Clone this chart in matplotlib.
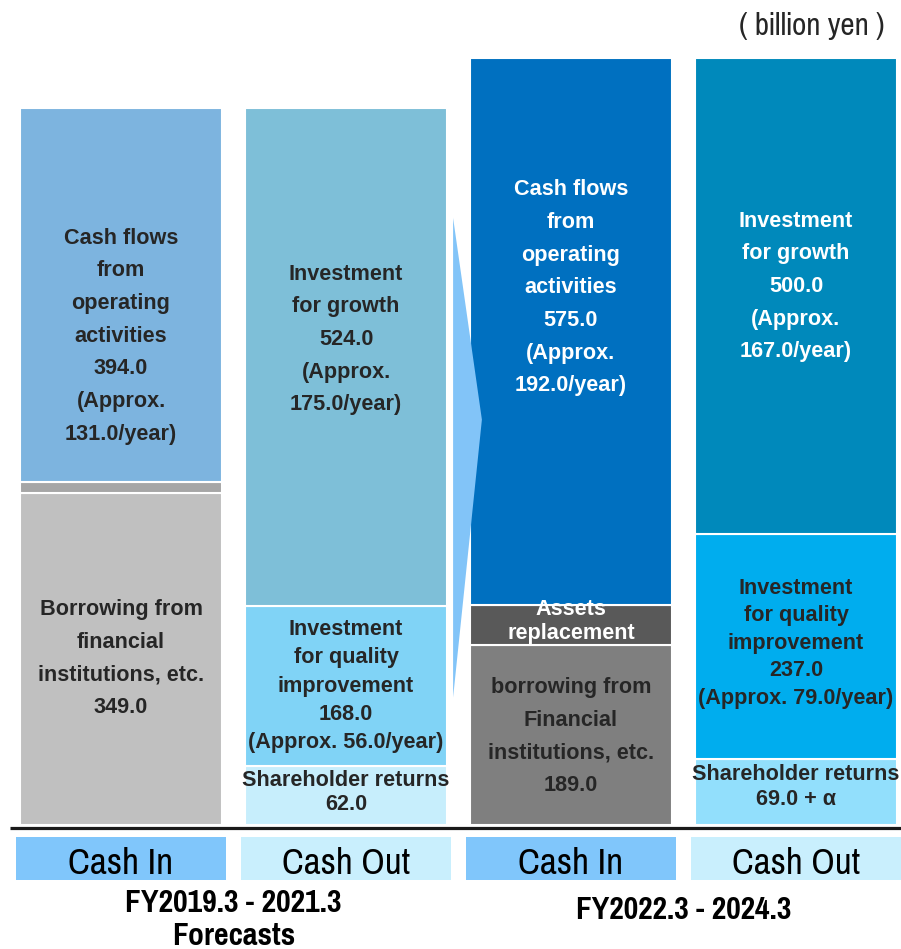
import matplotlib
matplotlib.use('Agg')
import matplotlib.pyplot as plt
from matplotlib import font_manager as fm
from matplotlib.patches import Polygon

# fonts: narrow face for the axis captions, Arial-like bold for the boxes
installed = {f.name for f in fm.fontManager.ttflist}
narrow = 'Liberation Sans'
for cand in ['Liberation Sans Narrow', 'Arial Narrow', 'Pragati Narrow', 'Archivo Narrow',
             'PT Sans Narrow', 'Roboto Condensed']:
    if cand in installed:
        narrow = cand
        break
main_font = 'Liberation Sans'

# data (billion yen), stacked bottom -> top
columns = ['Cash In', 'Cash Out', 'Cash In', 'Cash Out']
periods = ['FY2019.3 - 2021.3\nForecasts', 'FY2022.3 - 2024.3']

col1_values = [349.0, 11.0, 394.0]
col2_values = [62.0, 168.0, 524.0]
col3_values = [189.0, 42.0, 575.0]
col4_values = [69.0, 237.0, 500.0]

col1_labels = ['Borrowing from\nfinancial\ninstitutions, etc.\n349.0', '',
               'Cash flows\nfrom\noperating\nactivities\n394.0\n(Approx.\n131.0/year)']
col2_labels = ['Shareholder returns\n62.0',
               'Investment\nfor quality\nimprovement\n168.0\n(Approx. 56.0/year)',
               'Investment\nfor growth\n524.0\n(Approx.\n175.0/year)']
col3_labels = ['borrowing from\nFinancial\ninstitutions, etc.\n189.0',
               'Assets\nreplacement',
               'Cash flows\nfrom\noperating\nactivities\n575.0\n(Approx.\n192.0/year)']
col4_labels = ['Shareholder returns\n69.0 + α',
               'Investment\nfor quality\nimprovement\n237.0\n(Approx. 79.0/year)',
               'Investment\nfor growth\n500.0\n(Approx.\n167.0/year)']

values = [col1_values, col2_values, col3_values, col4_values]
labels = [col1_labels, col2_labels, col3_labels, col4_labels]

# styles
seg_colors = [['#c0c0c0', '#a6a6a6', '#7db4df'],
              ['#c7eefc', '#80d3f6', '#7ebfd8'],
              ['#7f7f7f', '#595959', '#0070c0'],
              ['#92dffc', '#00adee', '#0089bb']]
txt_colors = [['#262626', '#262626', '#262626'],
              ['#262626', '#262626', '#262626'],
              ['#262626', 'white', 'white'],
              ['#262626', '#262626', 'white']]
# where the text block centre sits inside each segment (fraction from bottom)
txt_frac = [[0.50, 0.5, 0.39],
            [0.55, 0.50, 0.535],
            [0.49, 0.60, 0.58],
            [0.58, 0.515, 0.52]]
txt_spacing = [[1.73, 1.0, 1.73],
               [1.24, 1.46, 1.73],
               [1.73, 1.19, 1.73],
               [1.24, 1.40, 1.73]]
box_colors = ['#80c6fb', '#c9effd', '#80c6fb', '#c9effd']

fig = plt.figure(figsize=(9.01, 9.49), dpi=100)
ax = fig.add_axes([0, 0, 1, 1])
ax.set_xlim(-0.5378, 3.4667)
ax.set_ylim(-130.3, 867.0)
ax.axis('off')
renderer = fig.canvas.get_renderer()


def fit_width(t, target_px):
    # scale a text so its first line is about target_px wide
    first = t.get_text().split('\n')[0]
    probe = ax.text(0, 0, first, fontproperties=t.get_fontproperties())
    w = probe.get_window_extent(renderer).width
    probe.remove()
    t.set_fontsize(t.get_fontsize() * target_px / w)


xs = list(range(len(columns)))

for i, x in enumerate(xs):
    bottom = 0.0
    for j, v in enumerate(values[i]):
        ax.bar(x, v, bottom=bottom, width=0.898, color=seg_colors[i][j],
               edgecolor='white', linewidth=1.5, zorder=2)
        if labels[i][j]:
            ax.text(x, bottom + v * txt_frac[i][j], labels[i][j], ha='center', va='center',
                    fontsize=15.6, fontweight='bold', family=main_font,
                    color=txt_colors[i][j], linespacing=txt_spacing[i][j], zorder=4)
        bottom += v

# arrow between the two periods
arrow = Polygon([[xs[1] + 0.476, 638], [xs[1] + 0.604, 426], [xs[1] + 0.476, 134]],
                closed=True, facecolor='#82c4f8', edgecolor='none', zorder=3)
ax.add_patch(arrow)

# baseline
ax.plot([-0.493, 3.4667], [-3.2, -3.2], color='#1a1a1a', linewidth=2.3, zorder=4,
        solid_capstyle='butt')

# category boxes
ax.bar(xs, [45.2] * 4, bottom=-57.8, width=0.93, color=box_colors, zorder=2)
cap_widths = [105, 128, 105, 128]
for x, c, w in zip(xs, columns, cap_widths):
    t = ax.text(x, -40.0, c, ha='center', va='center', fontsize=25, family=narrow,
                color='black', zorder=3)
    fit_width(t, w)

# period labels
t1 = ax.text(0.5, -67.5, periods[0], ha='center', va='top', fontsize=22, fontweight='bold',
             family=narrow, linespacing=1.2)
fit_width(t1, 217)
t2 = ax.text(2.5, -89.5, periods[1], ha='center', va='center', fontsize=22, fontweight='bold',
             family=narrow)
fit_width(t2, 216)

# unit
tu = ax.text(3.395, 840.0, '( billion yen )', ha='right', va='center', fontsize=19,
             family=narrow, color='#262626')
fit_width(tu, 146)

fig.savefig('out.png', dpi=100)
